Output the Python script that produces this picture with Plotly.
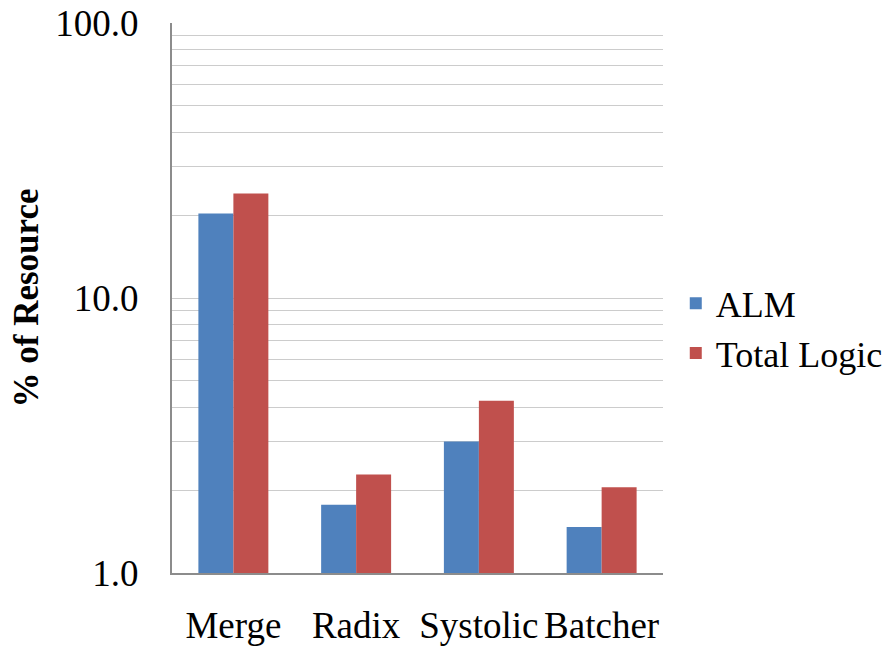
import plotly.graph_objects as go

categories = ["Merge", "Radix", "Systolic", "Batcher"]
alm = [20.3, 1.77, 3.01, 1.47]
total_logic = [24.0, 2.28, 4.23, 2.05]

tick_vals = [1, 2, 3, 4, 5, 6, 7, 8, 9, 10, 20, 30, 40, 50, 60, 70, 80, 90, 100]
tick_text = ["1.0"] + [""] * 8 + ["10.0"] + [""] * 8 + ["100.0"]

fig = go.Figure()
fig.add_trace(go.Bar(name="ALM", x=categories, y=alm, marker_color="#4f81bd",
                     marker_line_width=0))
fig.add_trace(go.Bar(name="Total Logic", x=categories, y=total_logic, marker_color="#c0504d",
                     marker_line_width=0))

fig.update_layout(
    width=894, height=649,
    barmode="group", bargap=0.43, bargroupgap=0,
    plot_bgcolor="white", paper_bgcolor="white",
    margin=dict(l=172, r=231, t=23, b=76, autoexpand=False),
    font=dict(family="Liberation Serif", color="black"),
    legend=dict(x=1.026, y=0.445, xanchor="left", yanchor="middle",
                font=dict(size=36, family="Liberation Serif"),
                itemwidth=30, tracegroupgap=4),
    showlegend=True,
)
fig.update_xaxes(showline=True, linecolor="#8c8c8c", linewidth=2, automargin=False,
                 tickfont=dict(size=37, family="Liberation Serif"),
                 ticks="", ticklabelstandoff=19)
fig.update_yaxes(type="log", range=[0, 2], tickvals=tick_vals, ticktext=tick_text,
                 showgrid=True, gridcolor="#cccccc", gridwidth=1, automargin=False,
                 showline=True, linecolor="#8c8c8c", linewidth=2,
                 ticks="", tickfont=dict(size=37, family="Liberation Serif"),
                 ticklabelstandoff=24, ticklabeloverflow="allow",
                 title=dict(text="<b>% of Resource</b>", font=dict(size=35, family="Liberation Serif"),
                            standoff=6),
                 zeroline=False)

fig.write_html("out.html", config={"displayModeBar": False},
               post_script="document.body.style.margin='0';document.body.style.overflow='hidden';")
